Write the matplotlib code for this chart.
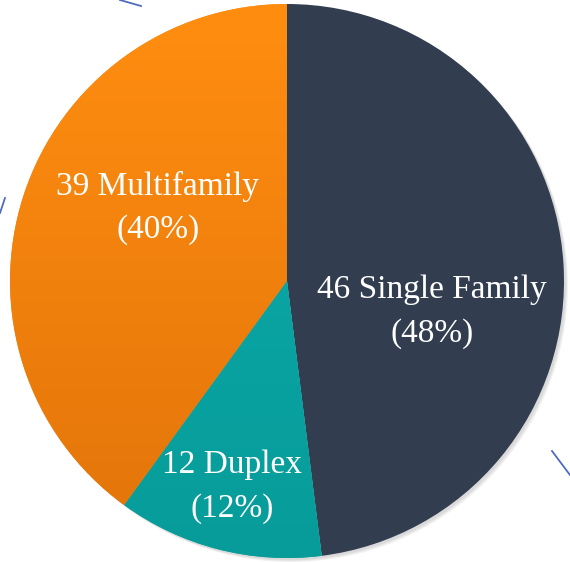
import matplotlib
matplotlib.use("Agg")
import matplotlib.pyplot as plt
import numpy as np
from matplotlib.colors import LinearSegmentedColormap
from matplotlib.patches import Circle

categories = ["Single Family", "Duplex", "Multifamily"]
counts = [46, 12, 39]
shares = [48, 12, 40]
colors = ["#323E50", "#0AA7A5", "#FA880C"]

W, H = 570, 562
fig = plt.figure(figsize=(W / 100, H / 100), dpi=100)
ax = fig.add_axes([0, 0, 1, 1])
cx, cy, r = 287, H - 281, 277

# faint drop shadow
for k, a in enumerate([0.05, 0.05, 0.05]):
    ax.add_patch(Circle((cx + 2 + k, cy - 2 - k), r, color="black", alpha=a,
                        lw=0, zorder=0))

wedges, _ = ax.pie(shares, colors=colors, startangle=90, counterclock=False,
                   center=(cx, cy), radius=r, frame=True,
                   wedgeprops=dict(edgecolor="none", linewidth=0))

grad = np.linspace(0, 1, 256).reshape(-1, 1)
cmap = LinearSegmentedColormap.from_list("o", ["#E2740A", "#FF8E10"])
im = ax.imshow(grad, extent=(cx - r, cx + r, cy - r, cy + r), origin="lower",
               cmap=cmap, aspect="auto", zorder=wedges[2].get_zorder() + 0.1)
im.set_clip_path(wedges[2])
cmap2 = LinearSegmentedColormap.from_list("t", ["#079C9A", "#0CACAA"])
im2 = ax.imshow(grad, extent=(cx - r, cx + r, cy - r, cy + r), origin="lower",
                cmap=cmap2, aspect="auto", zorder=wedges[1].get_zorder() + 0.1)
im2.set_clip_path(wedges[1])

ax.set_xlim(0, W)
ax.set_ylim(0, H)
ax.axis("off")

label_pos = [(432, 290), (232, 465), (158, 186)]
for name, c, s, (x, y) in zip(categories, counts, shares, label_pos):
    ax.text(x, H - y, f"{c} {name}", ha="center", va="center", color="white",
            fontsize=24, family="Liberation Serif", zorder=10)
    ax.text(x, H - y - 44, f"({s}%)", ha="center", va="center", color="white",
            fontsize=24, family="Liberation Serif", zorder=10)

for (x0, y0, x1, y1) in [(120, 0, 141, 6), (0, 213, 5, 198), (552, 451, 570, 475)]:
    fig.add_artist(plt.Line2D([x0 / W, x1 / W], [1 - y0 / H, 1 - y1 / H],
                              color="#4F6BC2", lw=1.3, zorder=0))

fig.savefig("out.png", dpi=100)
